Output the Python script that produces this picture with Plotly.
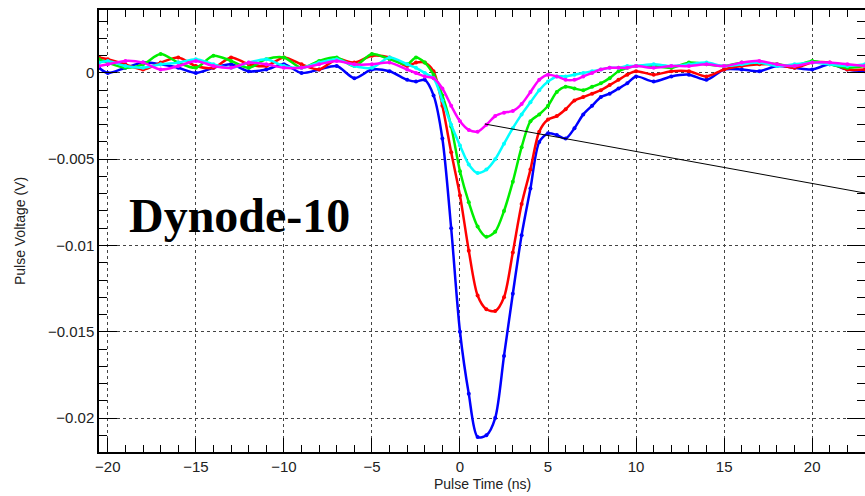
import plotly.graph_objects as go

# time samples (ns)
time_ns = [-20.5, -20, -19, -18, -17, -16, -15, -14, -13, -12, -11, -10, -9, -8, -7, -6, -5, -4, -3,
           -2.5, -2, -1.5, -1, -0.5, 0, 0.5, 1, 1.5, 2, 2.5, 3, 3.5, 4, 4.5, 5, 5.5, 6, 6.5, 7, 7.5,
           8, 8.5, 9, 9.5, 10,
           11, 12, 13, 14, 15, 16, 17, 18, 19, 20, 21, 22, 23]

# pulse voltages (V)
v_blue = [0.0003, 0.0000, 0.0003, 0.0006, 0.0005, 0.0003, 0.0000, 0.0003, 0.0005, 0.0001, 0.0002,
          0.0005, 0.0000, 0.0002, 0.0004, -0.0003, 0.0002, 0.0001, -0.0004,
          -0.0005, -0.0004, -0.0013, -0.0038, -0.0090, -0.0150, -0.0186, -0.0211, -0.0210, -0.0200,
          -0.0164, -0.0128, -0.0094, -0.0067, -0.0040, -0.0035, -0.0036, -0.0038, -0.0032, -0.0024,
          -0.0019, -0.0014, -0.0012, -0.0009, -0.0006, -0.0002,
          -0.0005, -0.0002, -0.0001, -0.0004, 0.0002, 0.0002, 0.0001, 0.0004, 0.0003, 0.0002, 0.0005,
          0.0002, 0.0001]
v_red = [0.0009, 0.0008, 0.0005, 0.0002, 0.0006, 0.0009, 0.0004, 0.0003, 0.0009, 0.0005, 0.0004,
         0.0009, 0.0005, 0.0002, 0.0008, 0.0006, 0.0010, 0.0009, 0.0004,
         0.0006, 0.0006, 0.0001, -0.0019, -0.0046, -0.0071, -0.0103, -0.0129, -0.0137, -0.0138,
         -0.0130, -0.0104, -0.0076, -0.0056, -0.0034, -0.0027, -0.0025, -0.0021, -0.0016, -0.0014,
         -0.0012, -0.0010, -0.0007, -0.0004, -0.0001, 0.0001,
         -0.0001, 0.0001, 0.0001, -0.0002, 0.0002, 0.0004, 0.0005, 0.0005, 0.0003, 0.0006, 0.0006,
         0.0002, 0.0002]
v_green = [0.0008, 0.0006, 0.0003, 0.0005, 0.0011, 0.0006, 0.0003, 0.0010, 0.0007, 0.0003, 0.0008,
           0.0009, 0.0003, 0.0007, 0.0009, 0.0004, 0.0011, 0.0008, 0.0005,
           0.0009, 0.0006, -0.0001, -0.0013, -0.0031, -0.0057, -0.0075, -0.0089, -0.0095, -0.0092,
           -0.0080, -0.0063, -0.0043, -0.0028, -0.0024, -0.0019, -0.0011, -0.0008, -0.0009, -0.0010,
           -0.0008, -0.0006, -0.0003, 0.0001, 0.0003, 0.0004,
           0.0004, 0.0003, 0.0006, 0.0005, 0.0004, 0.0006, 0.0006, 0.0005, 0.0004, 0.0007, 0.0005,
           0.0003, 0.0004]
v_cyan = [0.0006, 0.0007, 0.0004, 0.0003, 0.0005, 0.0006, 0.0008, 0.0005, 0.0003, 0.0006, 0.0008,
          0.0004, 0.0003, 0.0006, 0.0008, 0.0004, 0.0003, 0.0009, 0.0005,
          0.0003, 0.0000, -0.0003, -0.0016, -0.0030, -0.0042, -0.0053, -0.0058, -0.0056, -0.0050,
          -0.0041, -0.0032, -0.0024, -0.0017, -0.0010, -0.0005, -0.0002, -0.0002, -0.0001, 0.0000,
          0.0001, 0.0002, 0.0003, 0.0003, 0.0004, 0.0004,
          0.0005, 0.0004, 0.0005, 0.0006, 0.0004, 0.0005, 0.0006, 0.0004, 0.0005, 0.0006, 0.0005,
          0.0004, 0.0005]
v_magenta = [0.0004, 0.0005, 0.0007, 0.0006, 0.0002, 0.0004, 0.0007, 0.0004, 0.0003, 0.0006, 0.0005,
             0.0003, 0.0003, 0.0005, 0.0007, 0.0005, 0.0005, 0.0006, 0.0002,
             0.0000, -0.0002, -0.0003, -0.0009, -0.0019, -0.0028, -0.0033, -0.0034, -0.0030, -0.0025,
             -0.0023, -0.0022, -0.0018, -0.0011, -0.0004, -0.0001, -0.0002, -0.0004, -0.0004, -0.0002,
             0.0000, 0.0002, 0.0003, 0.0003, 0.0003, 0.0004,
             0.0003, 0.0004, 0.0004, 0.0005, 0.0004, 0.0006, 0.0007, 0.0005, 0.0004, 0.0006, 0.0006,
             0.0005, 0.0004]

series = [("blue", v_blue, "#0000ff"), ("red", v_red, "#ff0000"), ("green", v_green, "#00ee00"),
          ("cyan", v_cyan, "#00ffff"), ("magenta", v_magenta, "#ff00ff")]

pointer_x = [1.42, 23.0]
pointer_y = [-0.00296, -0.00696]

x_ticks = [-20, -15, -10, -5, 0, 5, 10, 15, 20]
y_ticks = [0, -0.005, -0.01, -0.015, -0.02]
y_ticktext = ["0", "\u22120.005", "\u22120.01", "\u22120.015", "\u22120.02"]
x_ticktext = [str(v) if v >= 0 else "\u2212" + str(-v) for v in x_ticks]

fig = go.Figure()
for name, vals, col in series:
    fig.add_trace(go.Scatter(x=time_ns, y=vals, mode="lines+markers", name=name,
                             line=dict(color=col, width=2.5, shape="spline", smoothing=0.8),
                             marker=dict(color=col, size=4)))

fig.add_trace(go.Scatter(x=pointer_x, y=pointer_y, mode="lines",
                         line=dict(color="black", width=1), showlegend=False))

tick_font = dict(family="Liberation Sans, Arial", size=15, color="#222")
axis_common = dict(showline=True, linecolor="black", linewidth=1.5, mirror="ticks",
                   ticks="inside", tickcolor="black", showgrid=True, gridcolor="#444",
                   griddash="dot", gridwidth=1, zeroline=False, automargin=False,
                   tickfont=tick_font)

fig.update_layout(
    width=865, height=496,
    margin=dict(l=99, r=0, t=10, b=44),
    paper_bgcolor="white", plot_bgcolor="white",
    showlegend=False,
    xaxis=dict(range=[-20.5, 23.0], tickvals=x_ticks, ticktext=x_ticktext, ticklen=14,
               minor=dict(dtick=1, ticks="inside", ticklen=7, tickcolor="black", showgrid=False),
               **axis_common),
    yaxis=dict(range=[-0.02197, 0.00365], tickvals=y_ticks, ticktext=y_ticktext, ticklen=18,
               minor=dict(dtick=0.001, tick0=0, ticks="inside", ticklen=8, tickcolor="black",
                          showgrid=False),
               **axis_common),
    annotations=[
        dict(text="<b>Dynode-10</b>", xref="paper", yref="paper", x=0.184, y=0.536,
             xanchor="center", yanchor="middle", showarrow=False,
             font=dict(family="Liberation Serif, Times New Roman", size=48, color="black")),
        dict(text="Pulse Time (ns)", xref="paper", yref="paper", x=0.5, y=-0.072,
             xanchor="center", yanchor="middle", showarrow=False,
             font=dict(family="Liberation Sans, Arial", size=14, color="#222")),
        dict(text="Pulse Voltage (V)", xref="paper", yref="paper", x=-0.103, y=0.5,
             xanchor="center", yanchor="middle", showarrow=False, textangle=-90,
             font=dict(family="Liberation Sans, Arial", size=14, color="#222")),
    ],
)

fig.write_html("out.html", config={"displayModeBar": False},
               post_script="document.body.style.margin='0';document.body.style.overflow='hidden';")
